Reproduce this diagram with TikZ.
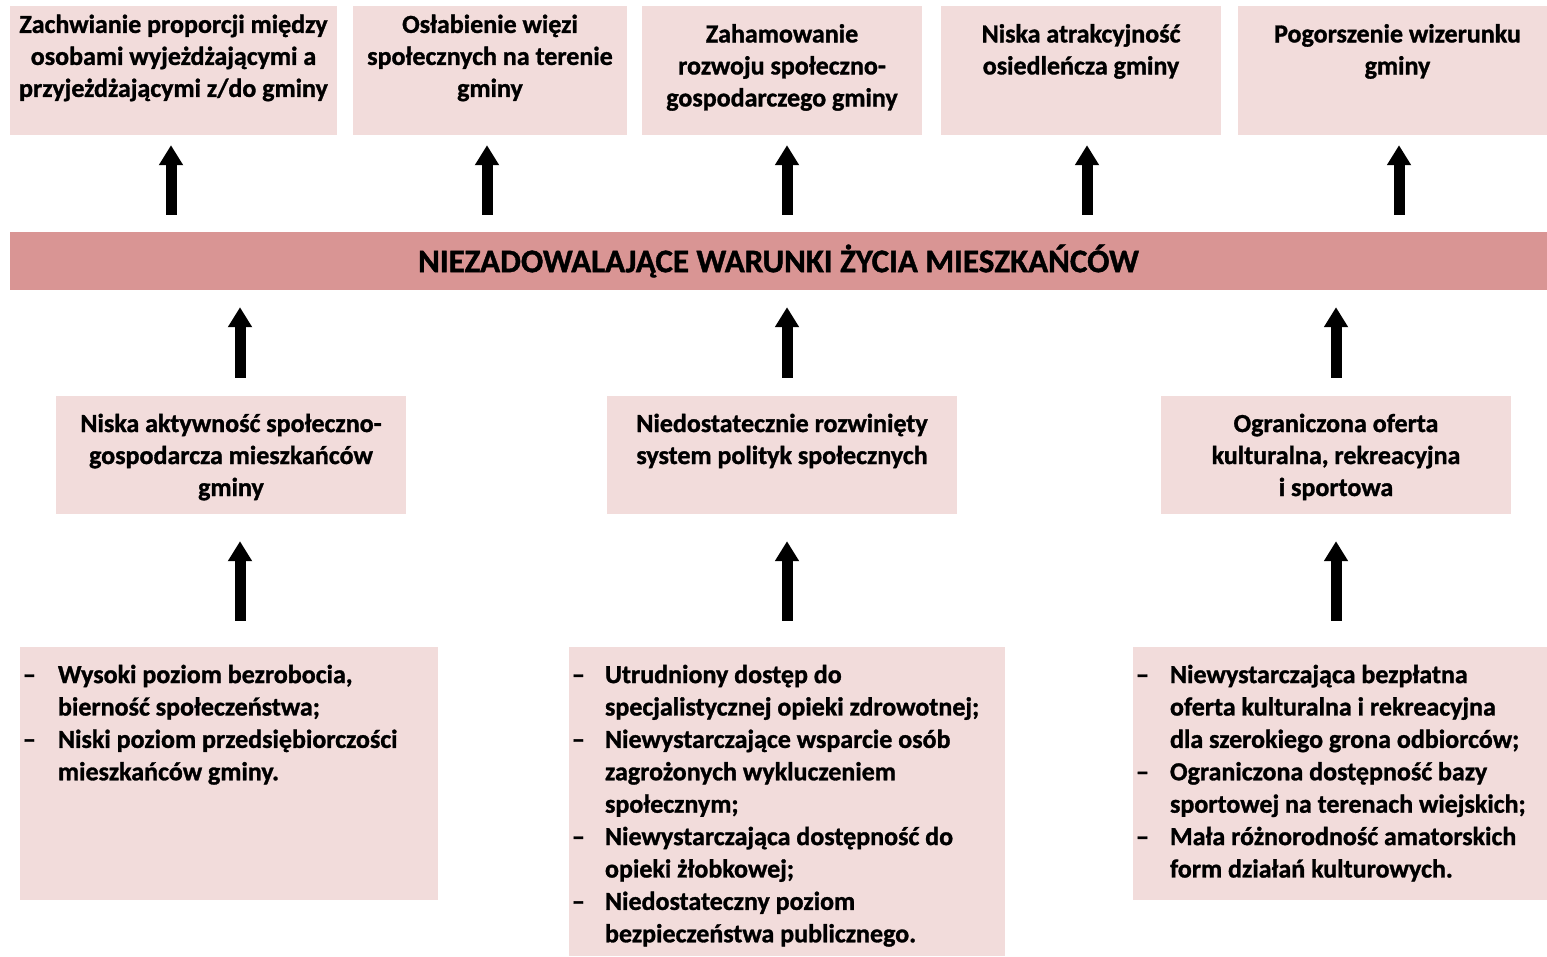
\documentclass[tikz,border=0pt]{standalone}
\usepackage{fontspec}
\setmainfont{Carlito}[FakeBold=1.2]
\newfontfamily\banfont{Carlito}[BoldFont={Carlito Bold}, BoldFeatures={FakeBold=1.2}]
\usetikzlibrary{arrows.meta}
\definecolor{boxfill}{HTML}{F2DCDB}
\definecolor{bannerfill}{HTML}{D99594}
\tikzset{
  lbox/.style={rectangle, fill=boxfill, draw=none, inner sep=0pt},
  banbox/.style={rectangle, fill=bannerfill, draw=none, inner sep=0pt},
  txt/.style={inner sep=0pt, align=center, anchor=north, font=\fontsize{26}{32}\selectfont\bfseries},
  btxt/.style={inner sep=0pt, anchor=north west, font=\fontsize{26}{32.4}\selectfont\bfseries},
  bigarrow/.style={line width=11pt, -{Triangle[width=23pt,length=20pt]}, black}
}
\begin{document}
\begin{tikzpicture}[x=1pt,y=-1pt]
\path[use as bounding box] (0,0) rectangle (1547,956);
% top boxes
\node[lbox, minimum width=327pt, minimum height=129pt] (t1) at (173.5,70.5) {};
\node[lbox, minimum width=274pt, minimum height=129pt] (t2) at (490,70.5) {};
\node[lbox, minimum width=280pt, minimum height=129pt] (t3) at (782,70.5) {};
\node[lbox, minimum width=280pt, minimum height=129pt] (t4) at (1081,70.5) {};
\node[lbox, minimum width=309pt, minimum height=129pt] (t5) at (1392.5,70.5) {};
\node[txt] (t1x) at ([yshift=-4.5pt]t1.north) {\strut Zachwianie proporcji między\\ osobami wyjeżdżającymi a\\ przyjeżdżającymi z/do gminy};
\node[txt] (t2x) at ([yshift=-4.5pt]t2.north) {\strut Osłabienie więzi\\ społecznych na terenie\\ gminy};
\node[txt] (t3x) at ([yshift=-14pt]t3.north) {\strut Zahamowanie\\ rozwoju społeczno-\\ gospodarczego gminy};
\node[txt] (t4x) at ([yshift=-14pt]t4.north) {\strut Niska atrakcyjność\\ osiedleńcza gminy};
\node[txt] (t5x) at ([xshift=5pt,yshift=-14pt]t5.north) {\strut Pogorszenie wizerunku\\ gminy};
% banner
\node[banbox, minimum width=1537pt, minimum height=58pt, font=\banfont\fontsize{33}{40}\selectfont\bfseries] (ban) at (778.5,261) {NIEZADOWALAJĄCE WARUNKI ŻYCIA MIESZKAŃCÓW};
% middle boxes
\node[lbox, minimum width=350pt, minimum height=118pt] (mA) at (231,455) {};
\node[lbox, minimum width=350pt, minimum height=118pt] (mB) at (782,455) {};
\node[lbox, minimum width=350pt, minimum height=118pt] (mC) at (1336,455) {};
\node[txt] (mAx) at ([yshift=-13.6pt]mA.north) {\strut Niska aktywność społeczno-\\ gospodarcza mieszkańców\\ gminy};
\node[txt] (mBx) at ([yshift=-13.6pt]mB.north) {\strut Niedostatecznie rozwinięty\\ system polityk społecznych};
\node[txt] (mCx) at ([yshift=-13.6pt]mC.north) {\strut Ograniczona oferta\\ kulturalna, rekreacyjna\\ i sportowa};
% bottom boxes
\node[lbox, minimum width=418pt, minimum height=253pt] (bA) at (229,773.5) {};
\node[lbox, minimum width=436pt, minimum height=309pt] (bB) at (787,801.5) {};
\node[lbox, minimum width=414pt, minimum height=253pt] (bC) at (1340,773.5) {};
\node[btxt] (bAx) at ([xshift=3pt,yshift=-13.4pt]bA.north west) {\begin{tabular}{@{}p{35pt}@{}l@{}}
-- & Wysoki poziom bezrobocia,\\
 & bierność społeczeństwa;\\
-- & Niski poziom przedsiębiorczości\\
 & mieszkańców gminy.
\end{tabular}};
\node[btxt] (bBx) at ([xshift=3pt,yshift=-13.4pt]bB.north west) {\begin{tabular}{@{}p{33pt}@{}l@{}}
-- & Utrudniony dostęp do\\
 & specjalistycznej opieki zdrowotnej;\\
-- & Niewystarczające wsparcie osób\\
 & zagrożonych wykluczeniem\\
 & społecznym;\\
-- & Niewystarczająca dostępność do\\
 & opieki żłobkowej;\\
-- & Niedostateczny poziom\\
 & bezpieczeństwa publicznego.
\end{tabular}};
\node[btxt] (bCx) at ([xshift=3pt,yshift=-13.4pt]bC.north west) {\begin{tabular}{@{}p{34pt}@{}l@{}}
-- & Niewystarczająca bezpłatna\\
 & oferta kulturalna i rekreacyjna\\
 & dla szerokiego grona odbiorców;\\
-- & Ograniczona dostępność bazy\\
 & sportowej na terenach wiejskich;\\
-- & Mała różnorodność amatorskich\\
 & form działań kulturowych.
\end{tabular}};
% arrows banner -> top boxes
\draw[bigarrow, shorten <=17pt, shorten >=10pt] ([xshift=-2.5pt]t1.south |- ban.north) -- ([xshift=-2.5pt]t1.south);
\draw[bigarrow, shorten <=17pt, shorten >=10pt] ([xshift=-3pt]t2.south |- ban.north) -- ([xshift=-3pt]t2.south);
\draw[bigarrow, shorten <=17pt, shorten >=10pt] ([xshift=5pt]t3.south |- ban.north) -- ([xshift=5pt]t3.south);
\draw[bigarrow, shorten <=17pt, shorten >=10pt] ([xshift=6pt]t4.south |- ban.north) -- ([xshift=6pt]t4.south);
\draw[bigarrow, shorten <=17pt, shorten >=10pt] ([xshift=6.5pt]t5.south |- ban.north) -- ([xshift=6.5pt]t5.south);
% arrows middle -> banner
\draw[bigarrow, shorten <=18pt, shorten >=17pt] ([xshift=9pt]mA.north) -- ([xshift=9pt]mA.north |- ban.south);
\draw[bigarrow, shorten <=18pt, shorten >=17pt] ([xshift=5pt]mB.north) -- ([xshift=5pt]mB.north |- ban.south);
\draw[bigarrow, shorten <=18pt, shorten >=17pt] (mC.north) -- (mC.north |- ban.south);
% arrows bottom -> middle
\draw[bigarrow, shorten <=26pt, shorten >=27pt] ([xshift=9pt]mA.north |- bA.north) -- ([xshift=9pt]mA.south);
\draw[bigarrow, shorten <=26pt, shorten >=27pt] ([xshift=5pt]mB.north |- bB.north) -- ([xshift=5pt]mB.south);
\draw[bigarrow, shorten <=26pt, shorten >=27pt] (mC.north |- bC.north) -- (mC.south);
\end{tikzpicture}
\end{document}
